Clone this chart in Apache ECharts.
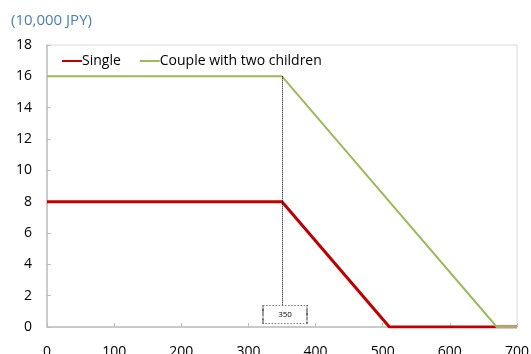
<!DOCTYPE html>
<html>
<head>
<meta charset="utf-8">
<script src="https://cdn.jsdelivr.net/npm/echarts@6/dist/echarts.min.js"></script>
<style>
  html, body { margin: 0; padding: 0; background: #fff; }
  #chart { width: 531px; height: 354px; }
</style>
</head>
<body>
<div id="chart"></div>
<script>
// Income (10,000 JPY) at which the benefit changes, and the benefit level there
const incomeSingle = [0, 350, 510, 700];
const benefitSingle = [8, 8, 0, 0];
const incomeCouple = [0, 350, 670, 700];
const benefitCouple = [16, 16, 0, 0];
const thresholdIncome = 350;
const thresholdLabel = '350';
const seriesNames = ['Single', 'Couple with two children'];
const unitLabel = '(10,000 JPY)';

const pair = (xs, ys) => xs.map((x, i) => [x, ys[i]]);

const font = '"Open Sans", "Noto Sans", sans-serif';
const chart = echarts.init(document.getElementById('chart'));

chart.setOption({
  animation: false,
  textStyle: { fontFamily: font },
  title: {
    text: unitLabel,
    left: 6, top: 8,
    textStyle: { fontSize: 15, fontWeight: 'normal', color: '#4a7ebb', fontFamily: font }
  },
  legend: {
    left: 57, top: 49,
    itemWidth: 20, itemHeight: 2, itemGap: 19,
    icon: 'rect',
    textStyle: { fontSize: 14, color: '#000', fontFamily: font, padding: [0, 0, 0, -5] },
    data: seriesNames
  },
  grid: {
    left: 47, right: 14, top: 45, bottom: 27,
    outerBoundsMode: 'none',
    show: true, borderColor: '#d9d9d9', borderWidth: 1
  },
  xAxis: {
    type: 'value', min: 0, max: 700, interval: 100,
    axisLine: { show: true, lineStyle: { color: '#bfbfbf', width: 1.5 } },
    axisTick: { show: true, inside: true, length: 4, lineStyle: { color: '#bfbfbf' } },
    axisLabel: { fontSize: 14, color: '#000', margin: 18, fontFamily: font },
    splitLine: { show: false }
  },
  yAxis: {
    type: 'value', min: 0, max: 18, interval: 2,
    axisLine: { show: true, lineStyle: { color: '#bfbfbf', width: 1.5 } },
    axisTick: { show: true, inside: true, length: 4, lineStyle: { color: '#bfbfbf' } },
    axisLabel: { fontSize: 14, color: '#000', margin: 15, fontFamily: font },
    splitLine: { show: false }
  },
  series: [
    {
      name: seriesNames[0], type: 'line',
      data: pair(incomeSingle, benefitSingle),
      symbol: 'none', color: '#c00000',
      lineStyle: { width: 3, color: '#c00000' },
      z: 2
    },
    {
      name: seriesNames[1], type: 'line',
      data: pair(incomeCouple, benefitCouple),
      symbol: 'none', color: '#9bbb59',
      lineStyle: { width: 2, color: '#9bbb59' },
      z: 3,
      markLine: {
        silent: true, symbol: 'none', animation: false,
        lineStyle: { type: [1, 1], color: '#000', width: 1 },
        label: { show: false },
        data: [[{ coord: [thresholdIncome, benefitCouple[1]] }, { coord: [thresholdIncome, 0.8] }]]
      },
      markPoint: {
        silent: true, animation: false,
        symbol: 'rect', symbolSize: [44, 18], symbolOffset: [3, 0],
        itemStyle: { color: '#fff', borderColor: '#000', borderWidth: 1, borderType: [1, 1] },
        label: { show: true, formatter: thresholdLabel, color: '#000', fontSize: 8, fontFamily: font },
        data: [{ coord: [thresholdIncome, 0.8] }]
      }
    }
  ]
});
</script>
</body>
</html>
